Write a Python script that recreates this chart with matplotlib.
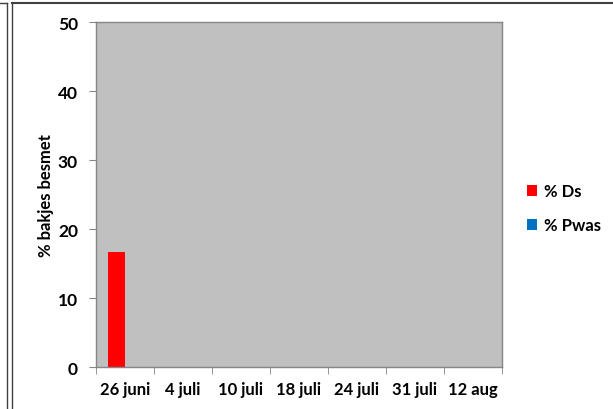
import numpy as np
import matplotlib
matplotlib.use("Agg")
from matplotlib import pyplot as plt
from matplotlib.lines import Line2D

plt.rcParams['font.family'] = ['Lato', 'DejaVu Sans']
plt.rcParams['font.weight'] = 'bold'

# dati
datums = ['26 juni', '4 juli', '10 juli', '18 juli', '24 juli', '31 juli', '12 aug']
pct_ds = [16.7, 0, 0, 0, 0, 0, 0]
pct_pwas = [0, 0, 0, 0, 0, 0, 0]
yticks = [0, 10, 20, 30, 40, 50]

fig = plt.figure(figsize=(6.13, 4.10), dpi=100)
ax = fig.add_axes([0.1566, 0.1024, 0.6623, 0.8415])
ax.set_facecolor('#c0c0c0')

x = np.arange(len(datums))
w = 1 / 3.5
ax.bar(x - w / 2, pct_ds, w, color='#ff0000', label='% Ds')
ax.bar(x + w / 2, pct_pwas, w, color='#0070c0', label='% Pwas')

ax.set_xlim(-0.5, len(datums) - 0.5)
ax.set_ylim(0, 50)
ax.set_yticks(yticks)
ax.set_xticks(x)
ax.set_xticklabels(datums, fontsize=12, fontweight='bold')
ax.set_xticks(np.arange(len(datums) + 1) - 0.5, minor=True)
ax.tick_params(axis='x', which='major', length=0, pad=10)
ax.tick_params(axis='x', which='minor', length=5, color='#868686', direction='out')
ax.tick_params(axis='y', length=5, color='#868686', labelsize=12.5, pad=8)
for lab in ax.get_yticklabels():
    lab.set_fontweight('bold')

for s in ax.spines.values():
    s.set_color('#868686')
    s.set_linewidth(1)

ax.set_ylabel('% bakjes besmet', fontsize=12, fontweight='bold', labelpad=3)

leg = ax.legend(loc='center left', bbox_to_anchor=(1.025, 0.46), frameon=False,
                handlelength=0.6, handleheight=0.6, handletextpad=0.4,
                labelspacing=1.1, prop={'size': 12, 'weight': 'bold'})

# randen van de grafiek
fig.add_artist(Line2D([7 / 613, 7 / 613], [0, 1 - 4 / 410], color='#404040', lw=1))
fig.add_artist(Line2D([12 / 613, 12 / 613], [0, 1 - 4 / 410], color='#404040', lw=1))
fig.add_artist(Line2D([0, 7 / 613], [1 - 4 / 410, 1 - 4 / 410], color='#404040', lw=1))
fig.add_artist(Line2D([12 / 613, 1], [1 - 4 / 410, 1 - 4 / 410], color='#404040', lw=1.5))

fig.savefig('out.png', dpi=100)
